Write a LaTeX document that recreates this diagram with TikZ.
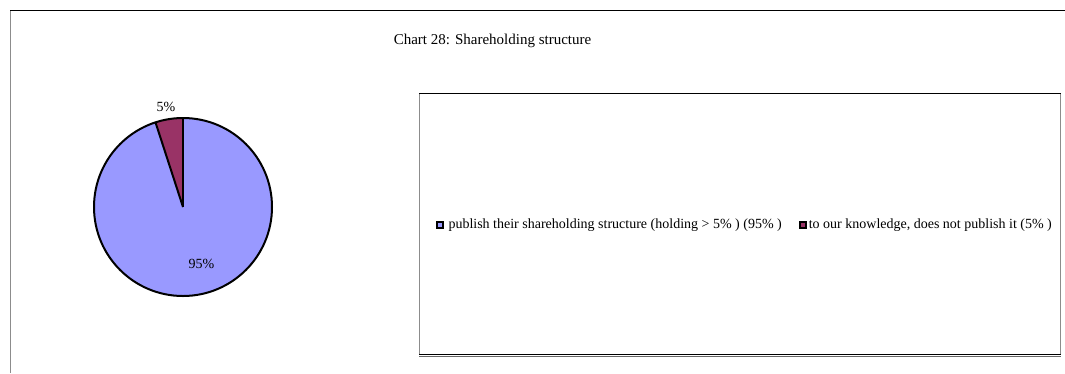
\documentclass[tikz,border=0pt]{standalone}
\usepackage{fontspec}
\setmainfont{Liberation Serif}
\usepackage{tikz}
\usetikzlibrary{positioning,calc}
\definecolor{sliceblue}{HTML}{9999FF}
\definecolor{sliceplum}{HTML}{993366}
\tikzset{
    slice/.style={draw=black, line width=2pt, line join=round},
    chartlabel/.style={font=\fontsize{14}{16}\selectfont, inner sep=0pt},
    keybox/.style={draw=black, line width=1.6pt, minimum size=6pt, inner sep=0pt}
}

\begin{document}
\begin{tikzpicture}[x=1pt, y=-1pt]
    \useasboundingbox (0,0) rectangle (1065,373);
    \draw[line width=1.2pt, black!45] (10.5,373) -- (10.5,10.5); % chart area frame, left side
    \draw[line width=1pt, black] (10,10.5) -- (1065,10.5); % chart area frame, top side
    \node[chartlabel, font=\fontsize{15}{17}\selectfont] (title) at (492.5,41) {Chart 28: Shareholding structure};

    \begin{scope}[shift={(183,207)}, y=1pt]
        \fill[sliceblue] (0,0) -- (90:89) arc[start angle=90, end angle=-252, radius=89] -- cycle; % 95% slice
        \fill[sliceplum] (0,0) -- (90:89) arc[start angle=90, end angle=108, radius=89] -- cycle; % 5% slice
        \draw[slice] (0,0) circle[radius=89];
        \draw[slice] (0,0) -- (90:89);
        \draw[slice] (0,0) -- (108:89);
    \end{scope}
    \node[chartlabel] (lbl5) at (166,106.5) {5\%};
    \node[chartlabel] (lbl95) at (201.5,263.5) {95\%};

    \node[minimum width=641pt, minimum height=260pt, inner sep=0pt] (legend) at (740,224) {};
    \draw[black!45, line width=1.2pt] (legend.south west) -- (legend.north west);
    \draw[black!45, line width=1.2pt] (legend.south east) -- (legend.north east);
    \draw[black, line width=1pt] (legend.north west) -- (legend.north east);
    \draw[black, line width=1pt] (legend.south west) -- (legend.south east);
    \draw[black!60, line width=0.8pt] ([yshift=-2pt]legend.south west) -- ([yshift=-2pt]legend.south east); % shadow edge
    \node[keybox, fill=sliceblue] (key1) at (440,225) {};
    \node[chartlabel, right=4.5pt of key1] (txt1) {publish their shareholding structure (holding > 5\% ) (95\% )};
    \node[keybox, fill=sliceplum, right=17pt of txt1] (key2) {};
    \node[chartlabel, right=2pt of key2] (txt2) {to our knowledge, does not publish it (5\% )};
\end{tikzpicture}
\end{document}
